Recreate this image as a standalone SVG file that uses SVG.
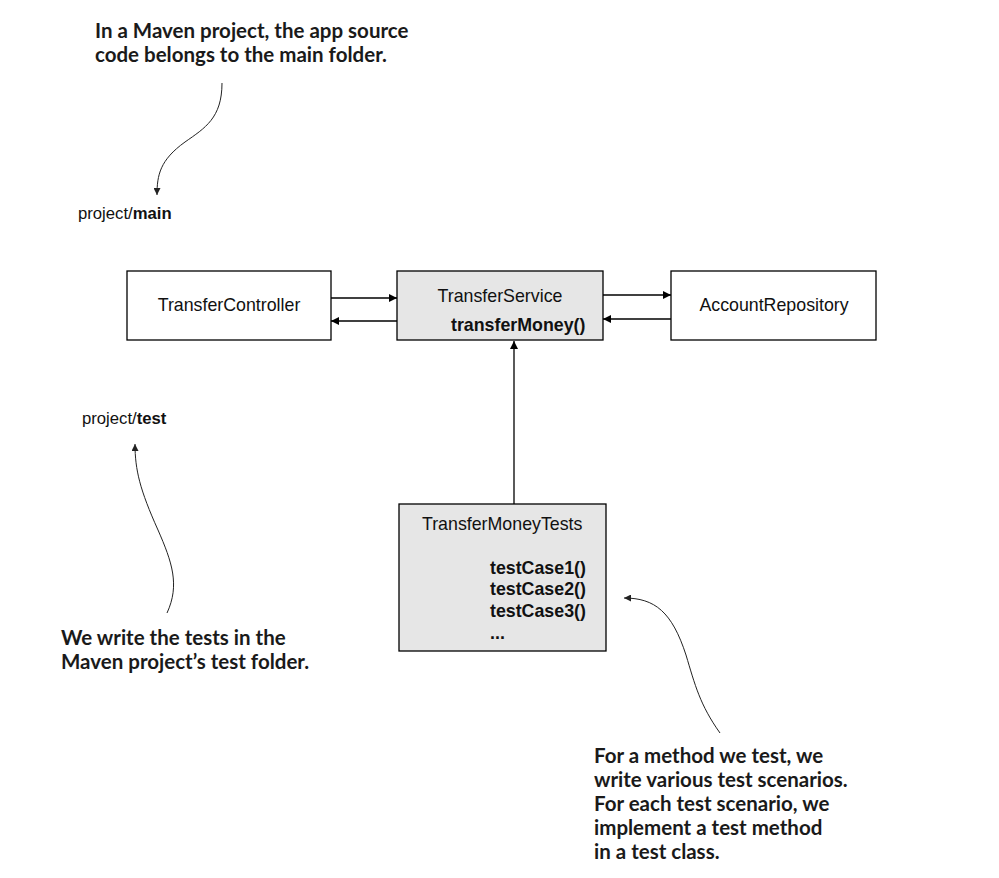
<svg xmlns="http://www.w3.org/2000/svg" width="999" height="878" viewBox="0 0 999 878">
<defs>
<style>
.box{stroke:#000;stroke-width:1.3}
.w{fill:#fff}
.g{fill:#e6e6e6}
.t{font-family:"Liberation Sans",Arial,sans-serif;font-size:17.8px;fill:#111}
.p{font-size:16.7px}
.b{font-weight:bold}
.c{font-family:Lato,"Liberation Sans",sans-serif;font-weight:bold;font-size:20.5px;fill:#1a1a1a}
.ln{fill:none;stroke:#000;stroke-width:1.3}
.cv{fill:none;stroke:#222;stroke-width:1}
</style>
<marker id="ah" viewBox="0 0 10 10" refX="10" refY="5" markerWidth="13" markerHeight="8" markerUnits="userSpaceOnUse" orient="auto">
<path d="M0,0 L10,5 L0,10 z" fill="#000"/>
</marker>
<marker id="ahs" viewBox="0 0 10 10" refX="10" refY="5" markerWidth="9" markerHeight="7" markerUnits="userSpaceOnUse" orient="auto">
<path d="M0,0 L10,5 L0,10 z" fill="#222"/>
</marker>
</defs>
<rect width="999" height="878" fill="#fff"/>
<g id="note-main">
<text class="c" x="95" y="38">In a Maven project, the app source</text>
<text class="c" x="95" y="62">code belongs to the main folder.</text>
</g>
<g id="label-main"><text class="t p" x="78" y="219">project/<tspan class="b">main</tspan></text></g>
<g id="TransferController">
<rect class="box w" x="127" y="271" width="204" height="69"/>
<text class="t" x="229" y="311" text-anchor="middle">TransferController</text>
</g>
<g id="TransferService">
<rect class="box g" x="397" y="271" width="206" height="69"/>
<text class="t" x="500" y="302" text-anchor="middle">TransferService</text>
<text class="t b" x="451" y="331">transferMoney()</text>
</g>
<g id="AccountRepository">
<rect class="box w" x="671" y="271" width="205" height="69"/>
<text class="t" x="774" y="311" text-anchor="middle">AccountRepository</text>
</g>
<g id="label-test"><text class="t p" x="82" y="424">project/<tspan class="b">test</tspan></text></g>
<g id="TransferMoneyTests">
<rect class="box g" x="399" y="504" width="207" height="147"/>
<text class="t" x="422" y="530">TransferMoneyTests</text>
<text class="t b" x="490" y="574">testCase1()</text>
<text class="t b" x="490" y="595">testCase2()</text>
<text class="t b" x="490" y="617">testCase3()</text>
<text class="t b" x="490" y="639">...</text>
</g>
<g id="note-test">
<text class="c" x="61" y="645">We write the tests in the</text>
<text class="c" x="61" y="669">Maven project’s test folder.</text>
</g>
<g id="note-method">
<text class="c" x="594" y="763">For a method we test, we</text>
<text class="c" x="594" y="787">write various test scenarios.</text>
<text class="c" x="594" y="811">For each test scenario, we</text>
<text class="c" x="594" y="835">implement a test method</text>
<text class="c" x="594" y="859">in a test class.</text>
</g>
<g id="connectors">
<line class="ln" x1="331" y1="298" x2="397" y2="298" marker-end="url(#ah)"/>
<line class="ln" x1="397" y1="321" x2="331" y2="321" marker-end="url(#ah)"/>
<line class="ln" x1="603" y1="295" x2="671" y2="295" marker-end="url(#ah)"/>
<line class="ln" x1="671" y1="319" x2="603" y2="319" marker-end="url(#ah)"/>
<line class="ln" x1="514" y1="504" x2="514" y2="341" marker-end="url(#ah)"/>
<path class="cv" d="M222,83 C222,118 205,128 185,142 C160,160 157,175 157,195" marker-end="url(#ahs)"/>
<path class="cv" d="M167,613 C180,585 172,562 158,530 C140,490 135,470 135,444" marker-end="url(#ahs)"/>
<path class="cv" d="M720,733 C700,705 695,685 686,655 C672,612 655,598 624,598" marker-end="url(#ahs)"/>
</g>
</svg>
